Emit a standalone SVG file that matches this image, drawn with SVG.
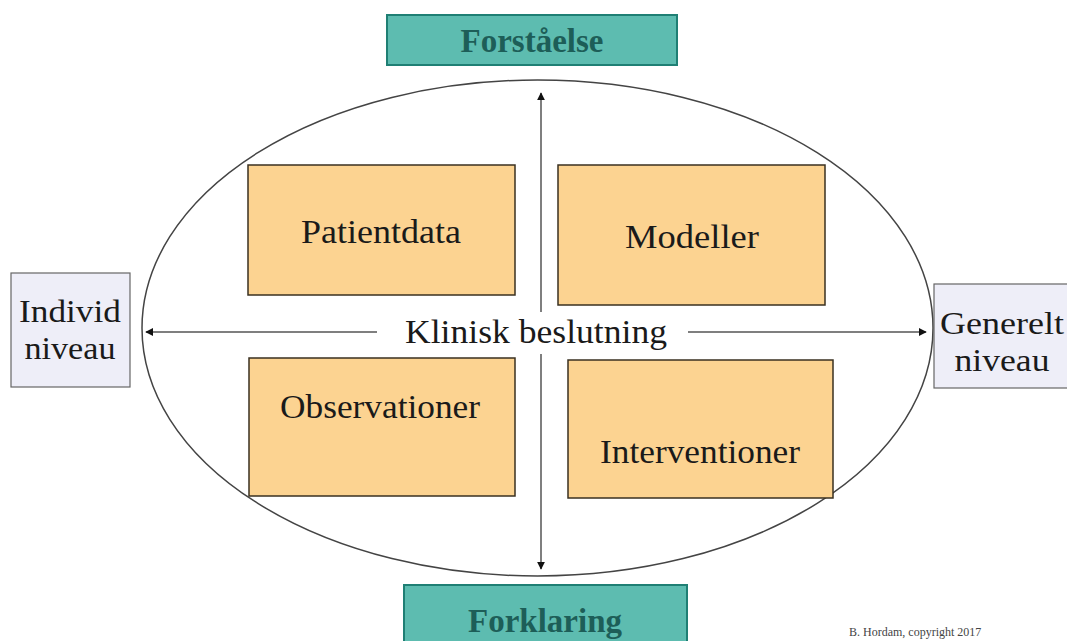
<svg xmlns="http://www.w3.org/2000/svg" width="1067" height="641" viewBox="0 0 1067 641">
<style>
.t{font-family:"Liberation Serif","Times New Roman","DejaVu Serif",serif;fill:#1a1a1a;text-anchor:middle}
.big{font-size:33px}
.side{font-size:31px}
.hd{font-family:"Liberation Serif","Times New Roman","DejaVu Serif",serif;font-weight:bold;font-size:33px;fill:#1d5e58;text-anchor:middle}
.teal{fill:#5dbcb0;stroke:#1f7f74;stroke-width:2}
.org{fill:#fcd391;stroke:#3a3020;stroke-width:1.5}
.lav{fill:#eeeef8;stroke:#666;stroke-width:1.2}
.ln{stroke:#555;stroke-width:1.5;fill:none}
</style>
<defs>
<marker id="ah" viewBox="0 0 10 10" refX="9" refY="5" markerWidth="8" markerHeight="8" markerUnits="userSpaceOnUse" orient="auto-start-reverse">
<path d="M0,0 L10,5 L0,10 z" fill="#111"/>
</marker>
</defs>
<rect width="1067" height="641" fill="#ffffff"/>
<g id="ellipse">
<ellipse cx="537.5" cy="328" rx="395.5" ry="248" fill="none" stroke="#444" stroke-width="1.5"/>
</g>
<g id="connectors">
<line class="ln" x1="541" y1="93" x2="541" y2="569" marker-start="url(#ah)" marker-end="url(#ah)"/>
<line class="ln" x1="377" y1="332" x2="146" y2="332" marker-end="url(#ah)"/>
<line class="ln" x1="688" y1="332" x2="926" y2="332" marker-end="url(#ah)"/>
</g>
<g id="forstaaelse">
<rect class="teal" x="387" y="15" width="290" height="50"/>
<text class="hd" x="532" y="52">Forståelse</text>
</g>
<g id="forklaring">
<rect class="teal" x="404" y="585" width="283" height="60"/>
<text class="hd" x="545" y="632">Forklaring</text>
</g>
<g id="patientdata">
<rect class="org" x="248" y="165" width="267" height="130"/>
<text class="t big" x="381" y="243" textLength="160" lengthAdjust="spacingAndGlyphs">Patientdata</text>
</g>
<g id="modeller">
<rect class="org" x="558" y="165" width="267" height="140"/>
<text class="t big" x="692" y="248" textLength="134" lengthAdjust="spacingAndGlyphs">Modeller</text>
</g>
<g id="observationer">
<rect class="org" x="249" y="358" width="266" height="138"/>
<text class="t big" x="380" y="418" textLength="200" lengthAdjust="spacingAndGlyphs">Observationer</text>
</g>
<g id="interventioner">
<rect class="org" x="568" y="360" width="265" height="138"/>
<text class="t big" x="700" y="463" textLength="200" lengthAdjust="spacingAndGlyphs">Interventioner</text>
</g>
<g id="klinisk">
<rect x="400" y="312" width="272" height="42" fill="#ffffff"/>
<text class="t big" x="536" y="343" textLength="262" lengthAdjust="spacingAndGlyphs">Klinisk beslutning</text>
</g>
<g id="individ">
<rect class="lav" x="11" y="273" width="119" height="114"/>
<text class="t side" x="70" y="322" textLength="102" lengthAdjust="spacingAndGlyphs">Individ</text>
<text class="t side" x="70" y="359" textLength="91" lengthAdjust="spacingAndGlyphs">niveau</text>
</g>
<g id="generelt">
<rect class="lav" x="934" y="284" width="140" height="104"/>
<text class="t side" x="1002" y="334" textLength="124" lengthAdjust="spacingAndGlyphs">Generelt</text>
<text class="t side" x="1002" y="371" textLength="95" lengthAdjust="spacingAndGlyphs">niveau</text>
</g>
<text class="t" x="849" y="636" font-size="12" style="text-anchor:start;fill:#444">B. Hordam, copyright 2017</text>
</svg>
